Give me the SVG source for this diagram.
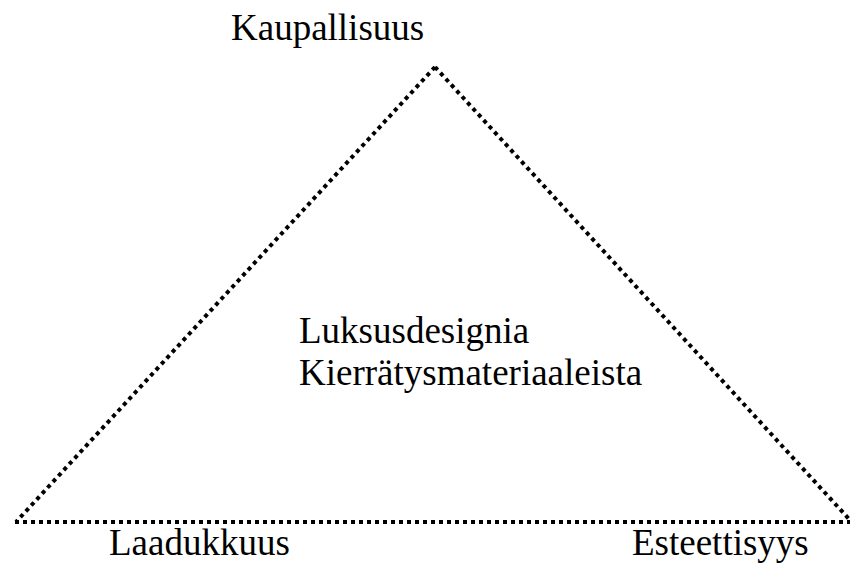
<svg xmlns="http://www.w3.org/2000/svg" width="850" height="565" viewBox="0 0 850 565">
<style>
.t{font-family:"Liberation Serif","Times New Roman",serif;font-size:37px;fill:#000}
.d{fill:none;stroke:#000;stroke-width:4;stroke-dasharray:4 4}
</style>
<rect width="850" height="565" fill="#fff"/>
<g id="connectors">
<line class="d" x1="435" y1="67" x2="16" y2="522"/>
<line class="d" x1="435" y1="67" x2="849" y2="519"/>
<line class="d" x1="15" y1="522" x2="850" y2="522"/>
</g>
<g id="top"><text class="t" x="231" y="40">Kaupallisuus</text></g>
<g id="center"><text class="t" x="299" y="343">Luksusdesignia</text><text class="t" x="299" y="385">Kierrätysmateriaaleista</text></g>
<g id="left"><text class="t" x="109" y="555">Laadukkuus</text></g>
<g id="right"><text class="t" x="632" y="555">Esteettisyys</text></g>
</svg>
